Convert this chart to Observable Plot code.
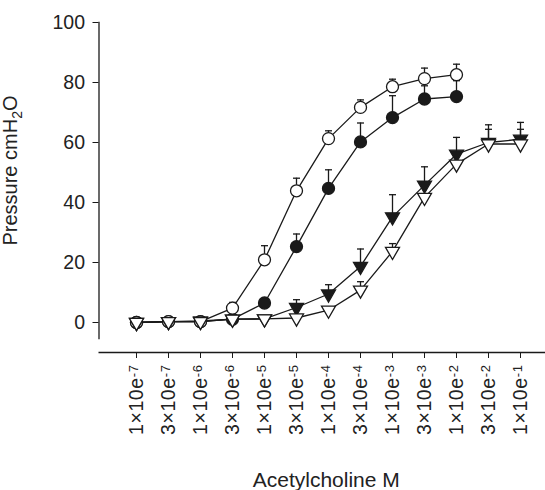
<!DOCTYPE html>
<html>
<head>
<meta charset="utf-8">
<script src="https://cdn.jsdelivr.net/npm/d3@7"></script>
<script src="https://cdn.jsdelivr.net/npm/@observablehq/plot@0.6"></script>
<style>
  html, body { margin: 0; padding: 0; background: #ffffff; }
</style>
</head>
<body>
<div id="chart"></div>
<script>
// Categories (acetylcholine concentration, M)
const concentrations = ["1×10e-7", "3×10e-7", "1×10e-6", "3×10e-6", "1×10e-5", "3×10e-5", "1×10e-4",
                        "3×10e-4", "1×10e-3", "3×10e-3", "1×10e-2", "3×10e-2", "1×10e-1"];
const yTicks = [0, 20, 40, 60, 80, 100];

// Series values (mean pressure, cmH2O) and upper error-bar ends
const openCircle      = [0, 0.3, 0.3, 4.8, 20.9, 43.9, 61.3, 71.7, 78.6, 81.3, 82.6, null, null];
const openCircleErr   = [null, null, null, 6.7, 25.6, 48.1, 63.9, 74.2, 81.1, 84.8, 86.1, null, null];
const filledCircle    = [0, 0.3, 0.3, 1.1, 6.5, 25.3, 44.7, 60.2, 68.3, 74.5, 75.3, null, null];
const filledCircleErr = [null, null, null, null, null, 29.5, 50.9, 66.5, 75.6, 78.9, 80.6, null, null];
const filledTriangle    = [0, 0.3, 0.5, 1.1, 1.2, 5.0, 9.5, 18.7, 35.2, 45.8, 56.1, 60.0, 61.1];
const filledTriangleErr = [null, null, null, null, null, 7.6, 12.6, 24.5, 42.6, 51.9, 61.7, 65.9, 66.7];
const openTriangle    = [0, 0.3, 0.3, 1.1, 1.2, 1.5, 4.1, 10.8, 23.7, 41.7, 52.8, 59.5, 59.5];
const openTriangleErr = [null, null, null, null, null, null, null, 13.6, 26.3, null, null, 64.4, 64.4];

const xLabel = "Acetylcholine M";
const yLabel = "Pressure cmH2O";

const ink = "#1a1a1a";

const seriesDefs = [
  {name: "filledCircle",   values: filledCircle,   err: filledCircleErr,   shape: "circle",   fill: ink},
  {name: "openCircle",     values: openCircle,     err: openCircleErr,     shape: "circle",   fill: "#ffffff"},
  {name: "filledTriangle", values: filledTriangle, err: filledTriangleErr, shape: "triangle", fill: ink},
  {name: "openTriangle",   values: openTriangle,   err: openTriangleErr,   shape: "triangle", fill: "#ffffff"}
];

const rows = seriesDefs.flatMap(s =>
  concentrations.map((c, i) => ({series: s.name, conc: c, value: s.values[i], err: s.err[i]}))
    .filter(d => d.value != null)
);
const errRows = rows.filter(d => d.err != null);

// error-bar cap: a short horizontal stroke used as a dot symbol
const capSymbol = {draw(context) { context.moveTo(-3.5, 0); context.lineTo(3.5, 0); }};

const dotMarks = seriesDefs.map(s => {
  const data = rows.filter(d => d.series === s.name);
  return s.shape === "circle"
    ? Plot.dot(data, {x: "conc", y: "value", r: 6, symbol: "circle", fill: s.fill, stroke: ink, strokeWidth: 1.3})
    : Plot.dot(data, {x: "conc", y: "value", r: 5.2, symbol: "triangle", rotate: 180, fill: s.fill, stroke: ink, strokeWidth: 1.3});
});

const chart = Plot.plot({
  width: 545,
  height: 490,
  marginLeft: 98.5,
  marginRight: 0,
  marginTop: 22,
  marginBottom: 138,
  style: {fontFamily: "'Liberation Sans', Arial, Helvetica, sans-serif", fontSize: "19.5px", color: "#222", background: "#fff"},
  x: {type: "point", domain: concentrations, range: [132.6, 524.3], padding: 0},
  y: {domain: [-10, 100]},
  marks: [
    Plot.frame({anchor: "left", insetBottom: 14, stroke: ink, strokeWidth: 1.3}),
    Plot.ruleY([-10], {stroke: ink, strokeWidth: 1.3}),
    Plot.axisY({ticks: yTicks, tickSize: 6, tickPadding: 8, label: null, stroke: ink}),
    Plot.axisX({tickSize: 6, tickPadding: 6, tickRotate: -90, label: null, stroke: ink}),
    Plot.line(rows, {x: "conc", y: "value", z: "series", stroke: ink, strokeWidth: 1.3}),
    Plot.ruleX(errRows, {x: "conc", y1: "value", y2: "err", stroke: ink, strokeWidth: 1.3}),
    Plot.dot(errRows, {x: "conc", y: "err", symbol: capSymbol, r: 3, fill: "none", stroke: ink, strokeWidth: 1.3}),
    ...dotMarks,
    Plot.text([xLabel], {frameAnchor: "bottom", textAnchor: "middle", dx: 4, dy: 134, lineAnchor: "bottom", fontSize: 21, fill: "#222"}),
    Plot.text([yLabel], {frameAnchor: "left", textAnchor: "middle", rotate: -90, dx: -88, dy: -17, fontSize: 20, fill: "#222"})
  ]
});

// Typographic touches: superscript exponents and subscript in H2O (text stays real text)
chart.querySelectorAll("text").forEach(t => {
  const s = t.textContent;
  const m = s.match(/^(.*e)(-\d+)$/);
  if (m) {
    t.textContent = m[1];
    t.setAttribute("letter-spacing", "0.6");
    const sup = document.createElementNS("http://www.w3.org/2000/svg", "tspan");
    sup.setAttribute("font-size", "13");
    sup.setAttribute("dy", "-5");
    sup.textContent = m[2];
    t.appendChild(sup);
  } else if (s === yLabel) {
    t.textContent = "Pressure cmH";
    const sub = document.createElementNS("http://www.w3.org/2000/svg", "tspan");
    sub.setAttribute("font-size", "14");
    sub.setAttribute("dy", "5");
    sub.textContent = "2";
    const rest = document.createElementNS("http://www.w3.org/2000/svg", "tspan");
    rest.setAttribute("dy", "-5");
    rest.textContent = "O";
    t.appendChild(sub);
    t.appendChild(rest);
  }
});

document.getElementById("chart").appendChild(chart);
</script>
</body>
</html>
